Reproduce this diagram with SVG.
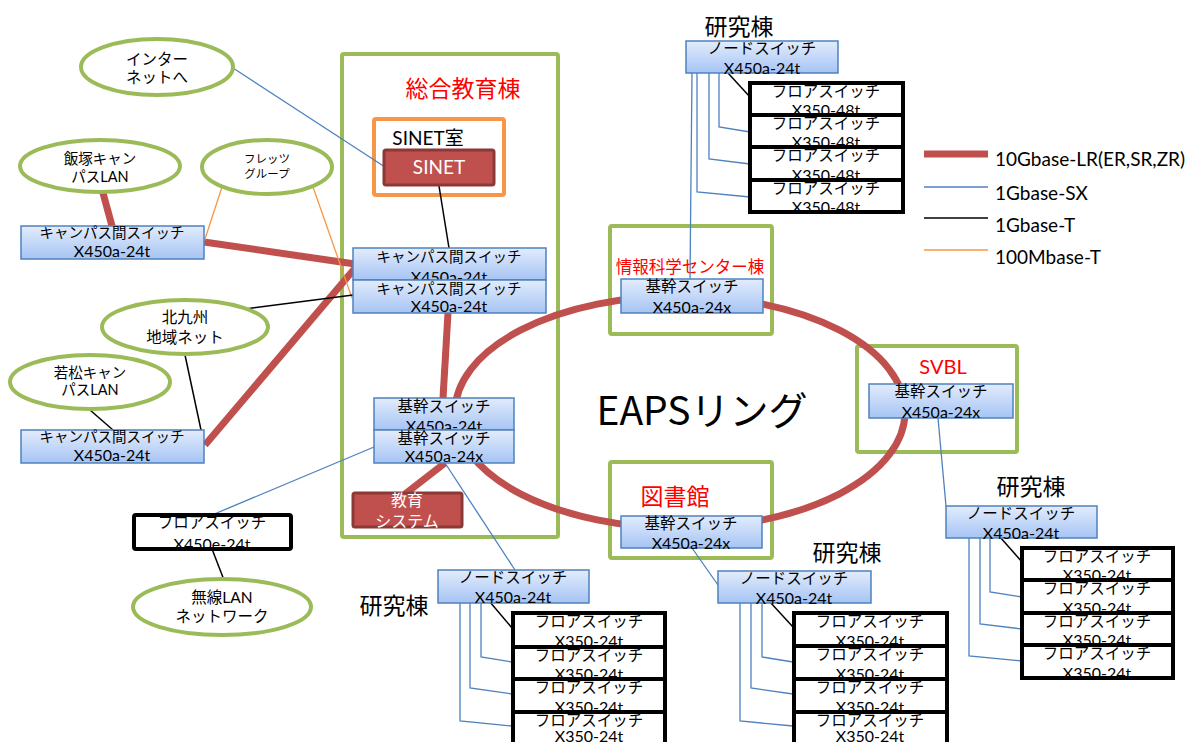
<svg xmlns="http://www.w3.org/2000/svg" width="1194" height="742" viewBox="0 0 1194 742">
<style>
text{font-family:Lato,"Noto Sans CJK JP",sans-serif;fill:#000;text-anchor:middle}
.jp{font-size:15.5px}
.jc{font-size:14.5px}
.lt{font-size:16px}
.ell{fill:#fff;stroke:#9BBB59;stroke-width:4}
.cont{fill:none;stroke:#9BBB59;stroke-width:4}
.sw{fill:url(#bg);stroke:#4F81BD;stroke-width:1.5}
.fl{fill:#fff}
.flb{fill:none;stroke:#000;stroke-width:4}
.red{fill:#FF0000}
.l10{stroke:#C0504D;stroke-width:7;fill:none}
.l1sx{stroke:#4F81BD;stroke-width:1.3;fill:none}
.l1t{stroke:#000;stroke-width:1.5;fill:none}
.l100{stroke:#F79646;stroke-width:1.3;fill:none}
.lg{font-size:19px;text-anchor:start}
</style>
<defs>
<linearGradient id="bg" x1="0" y1="0" x2="0" y2="1">
<stop offset="0" stop-color="#e2ecfc"/>
<stop offset="1" stop-color="#a6c4f4"/>
</linearGradient>
</defs>
<rect width="1194" height="742" fill="#fff"/>

<g id="containers">
<g id="sogo"><rect class="cont" x="342" y="54" width="216" height="483" rx="2"/><text class="red" x="463" y="97" style="font-size:23px">総合教育棟</text></g>
<g id="sinet-room"><rect x="374" y="119" width="130" height="76" fill="none" stroke="#F79646" stroke-width="4" rx="2"/><text x="428" y="145" style="font-size:19px">SINET室</text></g>
<g id="joho"><rect class="cont" x="610" y="226" width="162" height="108" rx="2"/><text class="red" x="690" y="273" style="font-size:16.5px">情報科学センター棟</text></g>
<g id="svbl"><rect class="cont" x="857" y="346" width="160" height="106" rx="2"/><text class="red" x="943" y="374" style="font-size:20px">SVBL</text></g>
<g id="tosho"><rect class="cont" x="610" y="462" width="162" height="96" rx="2"/><text class="red" x="675" y="505" style="font-size:23px">図書館</text></g>
</g>

<g id="connectors">
<ellipse class="l10" cx="680" cy="412" rx="225" ry="116"/>
<line class="l10" x1="103" y1="193" x2="112" y2="226"/>
<line class="l10" x1="204" y1="242" x2="355" y2="264"/>
<line class="l10" x1="205" y1="445" x2="356" y2="267"/>
<line class="l10" x1="448" y1="313" x2="443" y2="398"/>
<line class="l10" x1="445" y1="463" x2="405" y2="494"/>
<line class="l100" x1="222" y1="187" x2="204" y2="242"/>
<line class="l100" x1="313" y1="187" x2="352" y2="298"/>
<line class="l1sx" x1="233" y1="68" x2="385" y2="167"/>
<line class="l1t" x1="439" y1="186" x2="449" y2="248"/>
<line class="l1t" x1="245" y1="309" x2="353" y2="295"/>
<line class="l1t" x1="185" y1="355" x2="204" y2="444"/>
<line class="l1t" x1="90" y1="410" x2="113" y2="430"/>
<line class="l1sx" x1="374" y1="447" x2="212" y2="515"/>
<line class="l1t" x1="212" y1="549" x2="224" y2="580"/>
<line class="l1sx" x1="445" y1="463" x2="515" y2="570"/>
<line class="l1sx" x1="692" y1="548" x2="718" y2="585"/>
<line class="l1sx" x1="938" y1="418" x2="946" y2="506"/>
<line class="l1sx" x1="692" y1="73" x2="690" y2="279"/>
<polyline class="l1sx" points="719,73 719,127 750,132"/>
<polyline class="l1sx" points="709,73 709,159 750,164"/>
<polyline class="l1sx" points="697,73 697,192 750,197"/>
<line class="l1t" x1="728" y1="73" x2="750" y2="97"/>
<polyline class="l1sx" points="481,603 481,657 512,662"/>
<polyline class="l1sx" points="470,603 470,688 512,694"/>
<polyline class="l1sx" points="460,603 460,721 512,726"/>
<line class="l1t" x1="490" y1="602" x2="512" y2="628"/>
<polyline class="l1sx" points="762,603 762,657 793,662"/>
<polyline class="l1sx" points="751,603 751,688 793,694"/>
<polyline class="l1sx" points="740,603 740,721 793,726"/>
<line class="l1t" x1="770" y1="602" x2="793" y2="627"/>
<polyline class="l1sx" points="990,538 990,592 1022,597"/>
<polyline class="l1sx" points="980,538 980,624 1022,629"/>
<polyline class="l1sx" points="969,538 969,656 1022,661"/>
<line class="l1t" x1="1000" y1="537" x2="1022" y2="562"/>
</g>

<g id="ellipses">
<g id="internet"><ellipse class="ell" cx="157" cy="67" rx="76" ry="28"/><text class="jp" x="157" y="65">インター</text><text class="jp" x="157" y="83">ネットへ</text></g>
<g id="iizuka"><ellipse class="ell" cx="100" cy="166" rx="80" ry="26"/><text x="100" y="164" style="font-size:14.5px">飯塚キャン</text><text x="100" y="182" style="font-size:14.5px">パスLAN</text></g>
<g id="flets"><ellipse class="ell" cx="267" cy="167" rx="65" ry="27"/><text x="267" y="163" style="font-size:11.5px">フレッツ</text><text x="267" y="178" style="font-size:11.5px">グループ</text></g>
<g id="kitakyushu"><ellipse class="ell" cx="185" cy="327" rx="83" ry="27"/><text class="jp" x="185" y="323">北九州</text><text class="jp" x="185" y="343">地域ネット</text></g>
<g id="wakamatsu"><ellipse class="ell" cx="90" cy="382" rx="80" ry="27"/><text x="90" y="378" style="font-size:14.5px">若松キャン</text><text x="90" y="395" style="font-size:14.5px">パスLAN</text></g>
<g id="musen"><ellipse class="ell" cx="222" cy="607" rx="89" ry="28"/><text class="jp" x="222" y="603">無線LAN</text><text class="jp" x="222" y="622">ネットワーク</text></g>
</g>

<g id="switches">
<g id="sinet"><rect x="384" y="150" width="110" height="35" fill="#C0504D" stroke="#8C3836" stroke-width="3" rx="2"/><text x="439" y="174" style="font-size:19px;fill:#fff">SINET</text></g>
<g id="kyoiku"><rect x="353" y="493" width="109" height="34" fill="#C0504D" stroke="#8C3836" stroke-width="3" rx="2"/><text x="407" y="506" style="font-size:16px;fill:#fff">教育</text><text x="407" y="527" style="font-size:16px;fill:#fff">システム</text></g>
<g id="campus-left1"><rect class="sw" x="21" y="226" width="183" height="33"/><text class="jc" x="112" y="238">キャンパス間スイッチ</text><text class="lt" x="112" y="257">X450a-24t</text></g>
<g id="campus-left2"><rect class="sw" x="21" y="430" width="183" height="33"/><text class="jc" x="112" y="442">キャンパス間スイッチ</text><text class="lt" x="112" y="461">X450a-24t</text></g>
<g id="campus-c1"><rect class="sw" x="353" y="248" width="193" height="32"/><text class="jc" x="449" y="262">キャンパス間スイッチ</text><text class="lt" x="449" y="283">X450a-24t</text></g>
<g id="campus-c2"><rect class="sw" x="353" y="280" width="193" height="33"/><text class="jc" x="449" y="294">キャンパス間スイッチ</text><text class="lt" x="449" y="312">X450a-24t</text></g>
<g id="kikan-c1"><rect class="sw" x="374" y="398" width="140" height="32"/><text class="jp" x="444" y="412">基幹スイッチ</text><text class="lt" x="444" y="432">X450a-24t</text></g>
<g id="kikan-c2"><rect class="sw" x="374" y="430" width="140" height="33"/><text class="jp" x="444" y="444">基幹スイッチ</text><text class="lt" x="444" y="462">X450a-24x</text></g>
<g id="kikan-joho"><rect class="sw" x="621" y="279" width="142" height="34"/><text class="jp" x="692" y="292">基幹スイッチ</text><text class="lt" x="692" y="313">X450a-24x</text></g>
<g id="kikan-svbl"><rect class="sw" x="869" y="384" width="144" height="34"/><text class="jp" x="941" y="397">基幹スイッチ</text><text class="lt" x="941" y="418">X450a-24x</text></g>
<g id="kikan-tosho"><rect class="sw" x="621" y="516" width="141" height="32"/><text class="jp" x="691" y="529">基幹スイッチ</text><text class="lt" x="691" y="549">X450a-24x</text></g>

<g id="floor-x450e"><rect class="fl" x="134" y="515" width="157" height="34"/><text class="jp" x="212" y="528">フロアスイッチ</text><text class="lt" x="212" y="550">X450e-24t</text><rect class="flb" x="134" y="515" width="157" height="34" rx="2"/></g>

<g id="kenkyu-top">
<text x="739" y="35" style="font-size:23px">研究棟</text>
<rect class="sw" x="686" y="41" width="152" height="32"/><text class="jp" x="762" y="54">ノードスイッチ</text><text class="lt" x="762" y="74">X450a-24t</text>
<rect class="fl" x="750" y="83" width="153" height="32"/><text class="jp" x="826" y="97">フロアスイッチ</text><text class="lt" x="826" y="116">X350-48t</text><rect class="flb" x="750" y="83" width="153" height="32"/>
<rect class="fl" x="750" y="115" width="153" height="32"/><text class="jp" x="826" y="129">フロアスイッチ</text><text class="lt" x="826" y="148">X350-48t</text><rect class="flb" x="750" y="115" width="153" height="32"/>
<rect class="fl" x="750" y="147" width="153" height="33"/><text class="jp" x="826" y="161">フロアスイッチ</text><text class="lt" x="826" y="181">X350-48t</text><rect class="flb" x="750" y="147" width="153" height="33"/>
<rect class="fl" x="750" y="180" width="153" height="32"/><text class="jp" x="826" y="194">フロアスイッチ</text><text class="lt" x="826" y="213">X350-48t</text><rect class="flb" x="750" y="180" width="153" height="32"/>
</g>

<g id="kenkyu-left">
<text x="394" y="614" style="font-size:23px">研究棟</text>
<rect class="sw" x="438" y="570" width="151" height="33"/><text class="jp" x="513" y="583">ノードスイッチ</text><text class="lt" x="513" y="603">X450a-24t</text>
<rect class="fl" x="513" y="613" width="152" height="34"/><text class="jp" x="589" y="627">フロアスイッチ</text><text class="lt" x="589" y="647">X350-24t</text><rect class="flb" x="513" y="613" width="152" height="34"/>
<rect class="fl" x="513" y="647" width="152" height="32"/><text class="jp" x="589" y="661">フロアスイッチ</text><text class="lt" x="589" y="680">X350-24t</text><rect class="flb" x="513" y="647" width="152" height="32"/>
<rect class="fl" x="513" y="679" width="152" height="33"/><text class="jp" x="589" y="693">フロアスイッチ</text><text class="lt" x="589" y="713">X350-24t</text><rect class="flb" x="513" y="679" width="152" height="33"/>
<rect class="fl" x="513" y="712" width="152" height="33"/><text class="jp" x="589" y="726">フロアスイッチ</text><text class="lt" x="589" y="742">X350-24t</text><rect class="flb" x="513" y="712" width="152" height="33"/>
</g>

<g id="kenkyu-mid">
<text x="847" y="561" style="font-size:23px">研究棟</text>
<rect class="sw" x="718" y="571" width="153" height="32"/><text class="jp" x="794" y="584">ノードスイッチ</text><text class="lt" x="794" y="604">X450a-24t</text>
<rect class="fl" x="794" y="613" width="153" height="33"/><text class="jp" x="870" y="627">フロアスイッチ</text><text class="lt" x="870" y="647">X350-24t</text><rect class="flb" x="794" y="613" width="153" height="33"/>
<rect class="fl" x="794" y="646" width="153" height="33"/><text class="jp" x="870" y="660">フロアスイッチ</text><text class="lt" x="870" y="680">X350-24t</text><rect class="flb" x="794" y="646" width="153" height="33"/>
<rect class="fl" x="794" y="679" width="153" height="33"/><text class="jp" x="870" y="693">フロアスイッチ</text><text class="lt" x="870" y="713">X350-24t</text><rect class="flb" x="794" y="679" width="153" height="33"/>
<rect class="fl" x="794" y="712" width="153" height="33"/><text class="jp" x="870" y="726">フロアスイッチ</text><text class="lt" x="870" y="742">X350-24t</text><rect class="flb" x="794" y="712" width="153" height="33"/>
</g>

<g id="kenkyu-right">
<text x="1031" y="495" style="font-size:23px">研究棟</text>
<rect class="sw" x="946" y="506" width="151" height="32"/><text class="jp" x="1021" y="519">ノードスイッチ</text><text class="lt" x="1021" y="539">X450a-24t</text>
<rect class="fl" x="1022" y="548" width="151" height="32"/><text class="jp" x="1097" y="562">フロアスイッチ</text><text class="lt" x="1097" y="581">X350-24t</text><rect class="flb" x="1022" y="548" width="151" height="32"/>
<rect class="fl" x="1022" y="580" width="151" height="33"/><text class="jp" x="1097" y="594">フロアスイッチ</text><text class="lt" x="1097" y="614">X350-24t</text><rect class="flb" x="1022" y="580" width="151" height="33"/>
<rect class="fl" x="1022" y="613" width="151" height="32"/><text class="jp" x="1097" y="627">フロアスイッチ</text><text class="lt" x="1097" y="646">X350-24t</text><rect class="flb" x="1022" y="613" width="151" height="32"/>
<rect class="fl" x="1022" y="645" width="151" height="33"/><text class="jp" x="1097" y="659">フロアスイッチ</text><text class="lt" x="1097" y="679">X350-24t</text><rect class="flb" x="1022" y="645" width="151" height="33"/>
</g>
</g>

<g id="ring-label"><text x="702" y="425" style="font-family:'Noto Sans CJK JP',sans-serif;font-size:39px">EAPSリング</text></g>

<g id="legend">
<line class="l10" x1="924" y1="154" x2="988" y2="154"/><text class="lg" x="995" y="166">10Gbase-LR(ER,SR,ZR)</text>
<line class="l1sx" x1="924" y1="187" x2="988" y2="187"/><text class="lg" x="995" y="200">1Gbase-SX</text>
<line class="l1t" x1="924" y1="218" x2="988" y2="218"/><text class="lg" x="995" y="232">1Gbase-T</text>
<line class="l100" x1="924" y1="250" x2="988" y2="250"/><text class="lg" x="995" y="264">100Mbase-T</text>
</g>
</svg>
